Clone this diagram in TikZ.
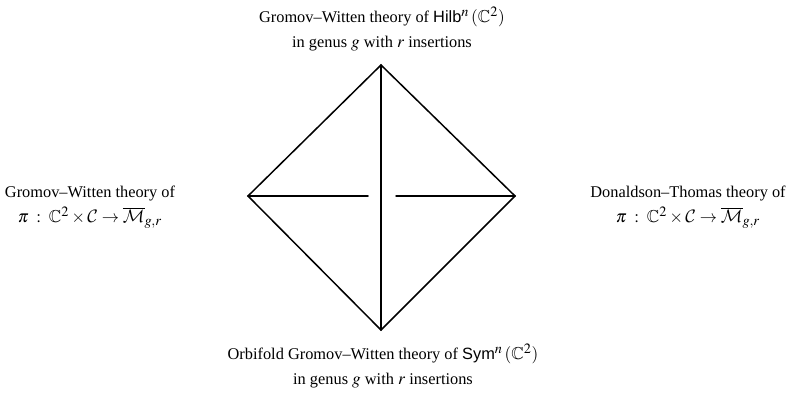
\documentclass[tikz,border=0pt]{standalone}
\usepackage{amssymb}
\usepackage{mathptmx}
\usepackage[no-math]{fontspec}
\setmainfont{Liberation Serif}
\setsansfont{Liberation Sans}
\DeclareMathAlphabet{\mathcal}{OMS}{cmsy}{m}{n}
\DeclareMathSizes{10.9}{11.5}{9.5}{7.5}
\usetikzlibrary{positioning}

\begin{document}
\begin{tikzpicture}[x=0.6667pt, y=-0.6667pt,
        theory/.style={align=center, font=\fontsize{10.9}{13}\selectfont, inner sep=0pt},
        edge/.style={line width=1pt, line cap=round}
    ]
        \useasboundingbox (0,0) rectangle (789,393);

        % Sommets du losange
        \coordinate (top) at (381,65);
        \coordinate (bot) at (381,330);
        \coordinate (lft) at (248,196);
        \coordinate (rgt) at (515,196);
        \coordinate (gapl) at (368,196);
        \coordinate (gapr) at (396,196);

        % Theories
        \node[theory] (gwhilb) at (382,29) {Gromov--Witten theory of {\sffamily Hilb}$^n\,(\mathbb{C}^2)$\\[4pt] in genus $g$ with $r$ insertions};
        \node[theory] (gwrel) at (90,207) {Gromov--Witten theory of\\[4pt] $\pi\;:\;\mathbb{C}^2\times\mathcal{C}\to\overline{\mathcal{M}}_{g,r}$};
        \node[theory] (dtrel) at (688,207) {Donaldson--Thomas theory of\\[4pt] $\pi\;:\;\mathbb{C}^2\times\mathcal{C}\to\overline{\mathcal{M}}_{g,r}$};
        \node[theory] (orbsym) at (383,366) {Orbifold Gromov--Witten theory of {\sffamily Sym}$^n\,(\mathbb{C}^2)$\\[4pt] in genus $g$ with $r$ insertions};

        % Aretes
        \draw[edge] (top) -- (lft) -- (bot) -- (rgt) -- cycle;
        \draw[edge] (top) -- (bot);
        \draw[edge] (lft) -- (gapl);
        \draw[edge] (gapr) -- (rgt);
    \end{tikzpicture}
\end{document}
